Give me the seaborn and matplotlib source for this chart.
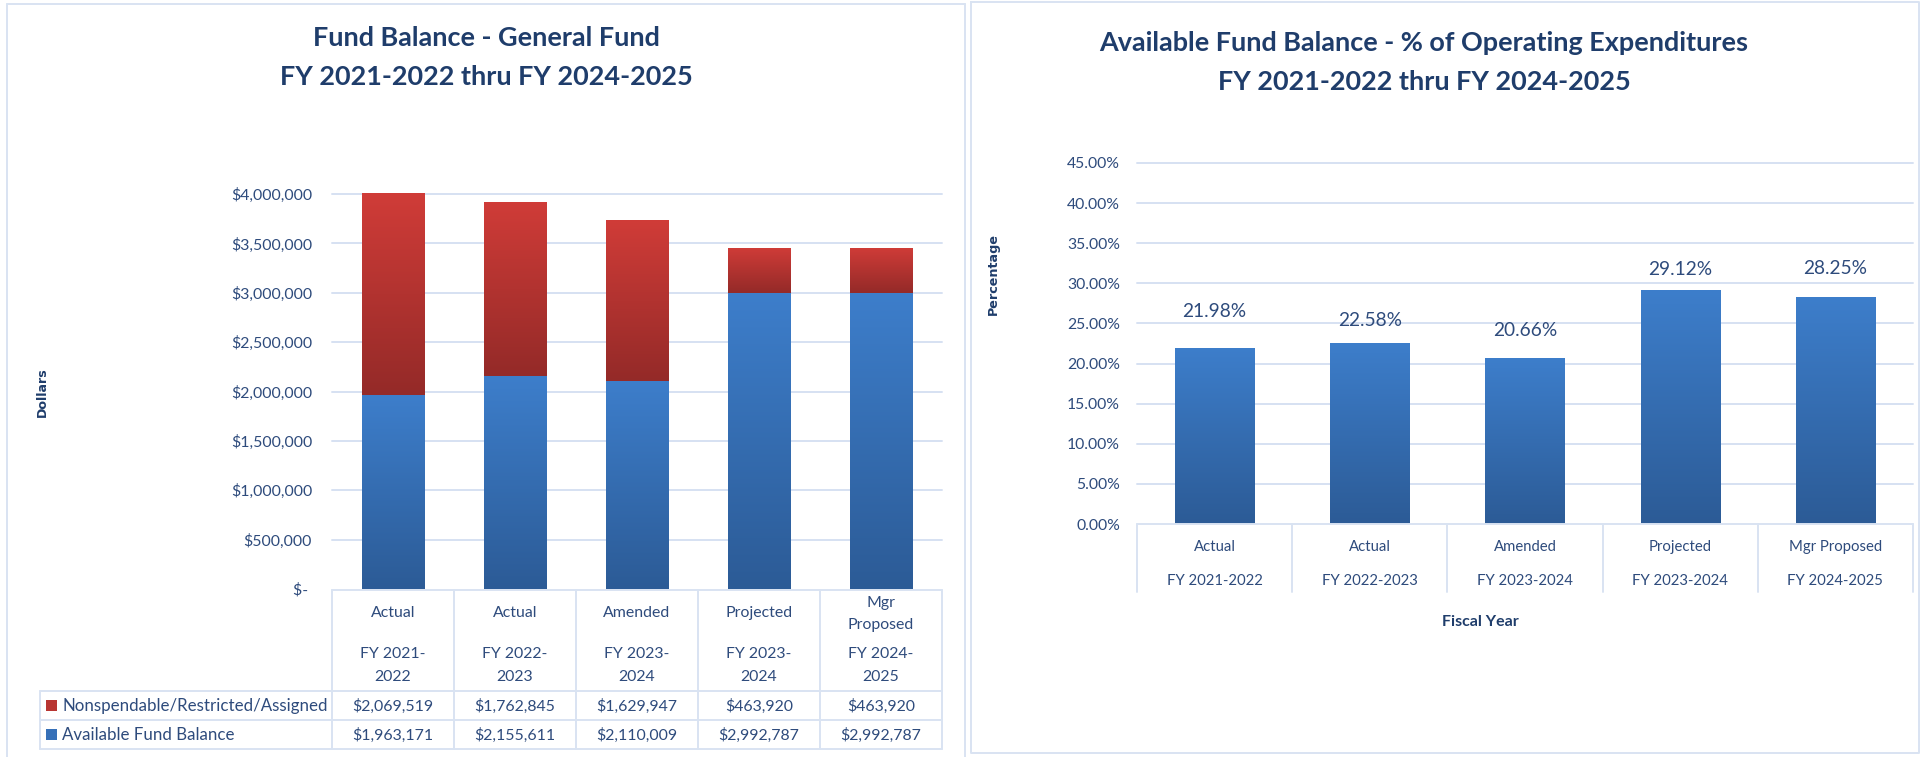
import numpy as np
import pandas as pd
import matplotlib
matplotlib.use("Agg")
import matplotlib.pyplot as plt
import seaborn as sns
from matplotlib.colors import LinearSegmentedColormap
from matplotlib.lines import Line2D
from matplotlib.patches import Rectangle
from matplotlib.transforms import blended_transform_factory
from matplotlib import font_manager as fm

# ---------------- data ----------------
categories = ["Actual", "Actual", "Amended", "Projected", "Mgr Proposed"]
fiscal_years = ["FY 2021-2022", "FY 2022-2023", "FY 2023-2024", "FY 2023-2024", "FY 2024-2025"]
left_cat_lines = [["Actual"], ["Actual"], ["Amended"], ["Projected"], ["Mgr", "Proposed"]]
left_fy_lines = [["FY 2021-", "2022"], ["FY 2022-", "2023"], ["FY 2023-", "2024"],
                 ["FY 2023-", "2024"], ["FY 2024-", "2025"]]
nonspendable = [2069519, 1762845, 1629947, 463920, 463920]
available = [1963171, 2155611, 2110009, 2992787, 2992787]
pct_available = [21.98, 22.58, 20.66, 29.12, 28.25]
series_names = ["Nonspendable/Restricted/Assigned", "Available Fund Balance"]
left_yticks = [0, 500000, 1000000, 1500000, 2000000, 2500000, 3000000, 3500000, 4000000]
right_yticks = [0, 5, 10, 15, 20, 25, 30, 35, 40, 45]
label_offset_px = [36, 22, 28, 21, 29]

# ---------------- style ----------------
sns.set_theme(style="white")
def pick_family():
    for f in ["Liberation Sans Narrow", "Lato", "DejaVu Sans"]:
        try:
            fm.findfont(fm.FontProperties(family=f), fallback_to_default=False)
            return f
        except Exception:
            pass
    return "DejaVu Sans"
MAIN = pick_family()
FAM = [MAIN, "DejaVu Sans"]
plt.rcParams["font.family"] = FAM

TITLE_C = "#1F3D6B"
TEXT_C = "#2E4B7C"
GRID_C = "#D6E1F2"
BORDER_C = "#D9E3F2"
BLUE_TOP, BLUE_BOT = "#3D7ECB", "#2C5B96"
RED_TOP, RED_BOT = "#D03C38", "#942A28"

W, H = 1923, 757
fig = plt.figure(figsize=(W / 100, H / 100), dpi=100)
fig.patch.set_facecolor("white")
renderer = fig.canvas.get_renderer()

def fx(x):
    return x / W

def fy(y):
    return 1 - y / H

def size_for(s, target_px, weight="normal", family=FAM, base=20):
    t = fig.text(0, 0, s, fontsize=base, fontweight=weight, family=family)
    w = t.get_window_extent(renderer=renderer).width
    t.remove()
    return base * target_px / w

def fig_line(xs, ys, color=BORDER_C, lw=1.4):
    fig.add_artist(Line2D([fx(x) for x in xs], [fy(y) for y in ys],
                          transform=fig.transFigure, color=color, lw=lw))

title_fs = size_for("FY 2021-2022 thru FY 2024-2025", 413, "bold")
tick_fs = size_for("$4,000,000", 81)
pct_tick_fs = size_for("45.00%", 53)
cat_fs = size_for("FY 2021-2022", 96)
table_fs = size_for(series_names[0], 265)
label_fs = size_for("21.98%", 64)
fiscal_fs = size_for("Fiscal Year", 77, "bold")
dollars_fs = size_for("Dollars", 50, "bold", ["DejaVu Sans"])
perc_fs = size_for("Percentage", 82, "bold", ["DejaVu Sans"])

# ---------------- panel borders ----------------
fig_line([7, 965], [4, 4])
fig_line([7, 7], [4, 757])
fig_line([965, 965], [4, 757])
fig_line([971, 1919, 1919, 971, 971], [2, 2, 753, 753, 2])

def gradient(ax, patch, y0, y1, top, bot):
    cmap = LinearSegmentedColormap.from_list("g", [bot, top])
    x0 = patch.get_x()
    w = patch.get_width()
    y1c = min(y1, ax.get_ylim()[1])
    grad = np.linspace(0, 1, 256).reshape(-1, 1)
    im = ax.imshow(grad, extent=[x0, x0 + w, y0, y1c], origin="lower",
                   aspect="auto", cmap=cmap, zorder=3, interpolation="bilinear")
    im.set_clip_path(patch)
    patch.set_facecolor("none")
    patch.set_edgecolor("none")

# ---------------- left chart ----------------
total = [a + b for a, b in zip(available, nonspendable)]
labels = [c + " " + f for c, f in zip(categories, fiscal_years)]
dfl = pd.DataFrame({"label": labels, "available": available, "total": total})

ax1 = fig.add_axes([fx(332), fy(589), (942 - 332) / W, (589 - 194) / H])
sns.barplot(data=dfl, x="label", y="total", order=labels, color=RED_TOP,
            width=0.516, saturation=1, ax=ax1, zorder=3)
sns.barplot(data=dfl, x="label", y="available", order=labels, color=BLUE_TOP,
            width=0.516, saturation=1, ax=ax1, zorder=3)
n = len(labels)
ax1.set_xlim(-0.5, n - 0.5)
ax1.set_ylim(0, 4000000)
for i, p in enumerate(ax1.patches[:n]):
    gradient(ax1, p, available[i], total[i], RED_TOP, RED_BOT)
for i, p in enumerate(ax1.patches[n:2 * n]):
    gradient(ax1, p, 0, available[i], BLUE_TOP, BLUE_BOT)
ax1.set_xlim(-0.5, n - 0.5)
ax1.set_ylim(0, 4000000)
ax1.set_yticks(left_yticks)
ax1.set_yticklabels(["$- " if v == 0 else "${:,.0f}".format(v) for v in left_yticks])
ax1.tick_params(axis="y", length=0, pad=20 * 0.72, labelsize=tick_fs, labelcolor=TEXT_C)
ax1.tick_params(axis="x", length=0, labelbottom=False)
ax1.set_xlabel("")
ax1.set_ylabel("")
for s in ax1.spines.values():
    s.set_visible(False)
for v in left_yticks[1:]:
    ax1.axhline(v, color=GRID_C, lw=1.4, zorder=1, clip_on=False)
ax1.set_facecolor("none")

fig.text(fx(486), fy(38), "Fund Balance - General Fund", ha="center", va="center",
         fontsize=title_fs, fontweight="bold", color=TITLE_C)
fig.text(fx(486), fy(77), "FY 2021-2022 thru FY 2024-2025", ha="center", va="center",
         fontsize=title_fs, fontweight="bold", color=TITLE_C)
fig.text(fx(42), fy(392), "Dollars", rotation=90, ha="center", va="center",
         fontsize=dollars_fs, fontweight="bold", color=TITLE_C, family=["DejaVu Sans"])

# data table
col_edges = [332 + k * 122 for k in range(n + 1)]
fig_line([332, 942], [590, 590])
for y in [691, 720, 749]:
    fig_line([40, 942], [y, y])
fig_line([40, 40], [691, 749])
for x in col_edges:
    fig_line([x, x], [590, 749])
bt = blended_transform_factory(ax1.transData, fig.transFigure)
for i in range(n):
    cl = left_cat_lines[i]
    ys = [613] if len(cl) == 1 else [603, 625]
    for t, y in zip(cl, ys):
        fig.text(i, fy(y), t, transform=bt, ha="center", va="center",
                 fontsize=tick_fs, color=TEXT_C)
    for t, y in zip(left_fy_lines[i], [654, 677]):
        fig.text(i, fy(y), t, transform=bt, ha="center", va="center",
                 fontsize=tick_fs, color=TEXT_C)
    fig.text(i, fy(706), "${:,.0f}".format(nonspendable[i]), transform=bt,
             ha="center", va="center", fontsize=tick_fs, color=TEXT_C)
    fig.text(i, fy(735), "${:,.0f}".format(available[i]), transform=bt,
             ha="center", va="center", fontsize=tick_fs, color=TEXT_C)
for yrow, name, col in [(705.5, series_names[0], "#B83532"), (734.5, series_names[1], "#3670B8")]:
    fig.add_artist(Rectangle((fx(46), fy(yrow + 5.5)), 11 / W, 11 / H,
                             transform=fig.transFigure, facecolor=col, edgecolor="none"))
    fig.text(fx(62), fy(yrow + 1), name, ha="left", va="center",
             fontsize=table_fs, color=TEXT_C)

# ---------------- right chart ----------------
dfr = pd.DataFrame({"label": labels, "pct": pct_available})
ax2 = fig.add_axes([fx(1137), fy(524), (1913 - 1137) / W, (524 - 163) / H])
sns.barplot(data=dfr, x="label", y="pct", order=labels, color=BLUE_TOP,
            width=0.51, saturation=1, ax=ax2, zorder=3)
ax2.set_xlim(-0.5, n - 0.5)
ax2.set_ylim(0, 45)
for i, p in enumerate(ax2.patches[:n]):
    gradient(ax2, p, 0, pct_available[i], BLUE_TOP, BLUE_BOT)
ax2.set_xlim(-0.5, n - 0.5)
ax2.set_ylim(0, 45)
ax2.set_yticks(right_yticks)
ax2.set_yticklabels(["{:.2f}%".format(v) for v in right_yticks])
ax2.tick_params(axis="y", length=0, pad=17 * 0.72, labelsize=pct_tick_fs, labelcolor=TEXT_C)
ax2.tick_params(axis="x", length=0, labelbottom=False)
ax2.set_xlabel("")
ax2.set_ylabel("")
for s in ax2.spines.values():
    s.set_visible(False)
for v in right_yticks[1:]:
    ax2.axhline(v, color=GRID_C, lw=1.4, zorder=1, clip_on=False)
ax2.set_facecolor("none")
for i, v in enumerate(pct_available):
    ax2.annotate("{:.2f}%".format(v), xy=(i, v), xytext=(0, label_offset_px[i] * 0.72),
                 textcoords="offset points", ha="center", va="center",
                 fontsize=label_fs, color=TEXT_C)

fig.text(fx(1424), fy(43), "Available Fund Balance - % of Operating Expenditures",
         ha="center", va="center", fontsize=title_fs, fontweight="bold", color=TITLE_C)
fig.text(fx(1424), fy(82), "FY 2021-2022 thru FY 2024-2025",
         ha="center", va="center", fontsize=title_fs, fontweight="bold", color=TITLE_C)
fig.text(fx(993), fy(274), "Percentage", rotation=90, ha="center", va="center",
         fontsize=perc_fs, fontweight="bold", color=TITLE_C, family=["DejaVu Sans"])
fig.text(fx(1480), fy(622), "Fiscal Year", ha="center", va="center",
         fontsize=fiscal_fs, fontweight="bold", color=TITLE_C)

fig_line([1137, 1913], [524, 524])
step = (1913 - 1137) / n
for k in range(n + 1):
    x = 1137 + k * step
    fig_line([x, x], [524, 592])
bt2 = blended_transform_factory(ax2.transData, fig.transFigure)
for i in range(n):
    fig.text(i, fy(547), categories[i], transform=bt2, ha="center", va="center",
             fontsize=cat_fs, color=TEXT_C)
    fig.text(i, fy(581), fiscal_years[i], transform=bt2, ha="center", va="center",
             fontsize=cat_fs, color=TEXT_C)

fig.savefig("out.png", dpi=100, facecolor="white")
